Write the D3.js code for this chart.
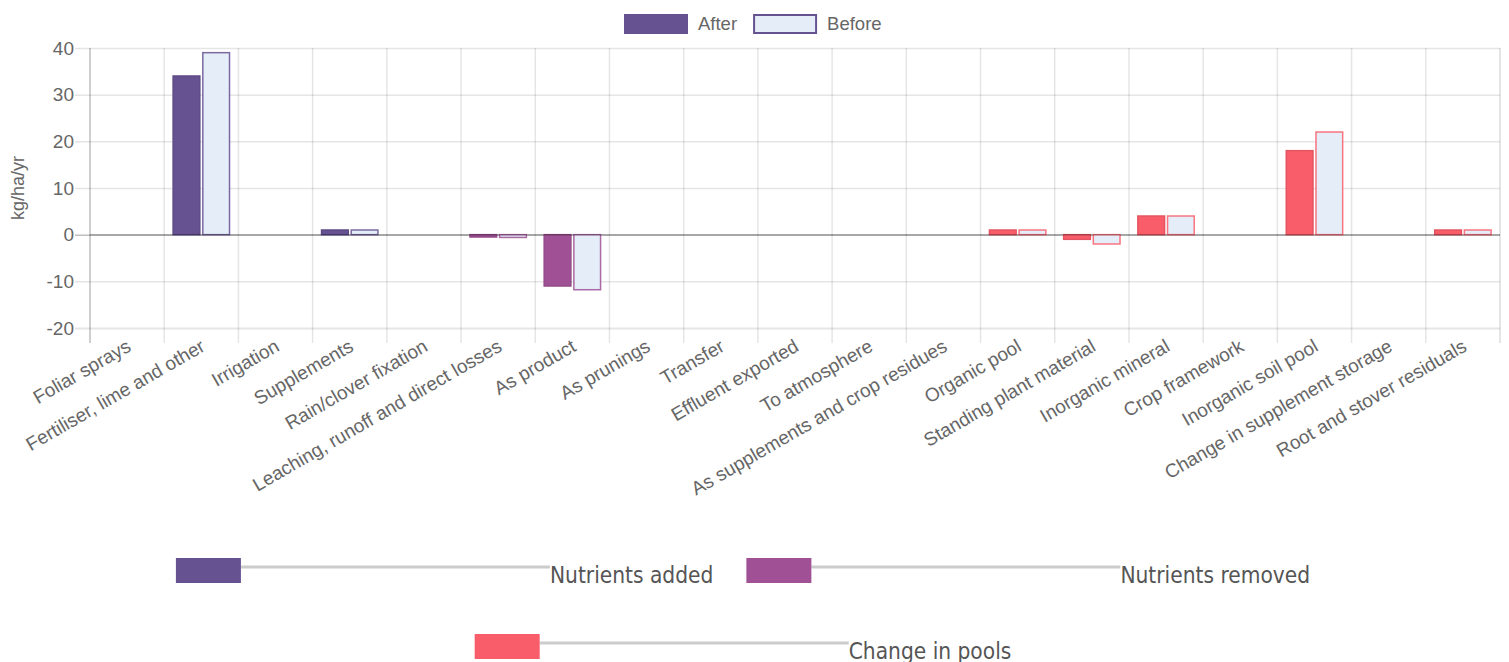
<!DOCTYPE html>
<html>
<head>
<meta charset="utf-8">
<script src="https://cdn.jsdelivr.net/npm/d3@7/dist/d3.min.js"></script>
<style>
  body { margin: 0; background: #fff; }
  svg { display: block; }
</style>
</head>
<body>
<div id="svg"></div>
<script>
// chart data
var categories = ["Foliar sprays", "Fertiliser, lime and other", "Irrigation", "Supplements",
    "Rain/clover fixation", "Leaching, runoff and direct losses", "As product", "As prunings",
    "Transfer", "Effluent exported", "To atmosphere", "As supplements and crop residues",
    "Organic pool", "Standing plant material", "Inorganic mineral", "Crop framework",
    "Inorganic soil pool", "Change in supplement storage", "Root and stover residuals"]
var afterValues  = [0, 34, 0, 1, 0, -0.5, -11, 0, 0, 0, 0, 0, 1, -1, 4, 0, 18, 0, 1]
var beforeValues = [0, 39, 0, 1, 0, -0.6, -11.8, 0, 0, 0, 0, 0, 1, -2, 4, 0, 22, 0, 1]
// which group every category belongs to (0 added, 1 removed, 2 pools)
var categoryGroup = [0, 0, 0, 0, 0, 1, 1, 1, 1, 1, 1, 1, 2, 2, 2, 2, 2, 2, 2]
var groupNames = ["Nutrients added", "Nutrients removed", "Change in pools"]
var seriesNames = ["After", "Before"]
var yTicks = [-20, -10, 0, 10, 20, 30, 40]

var color = ["#665191", "#a05195", "#f95d6a"]
var beforeFill = "#e4edf8"
var font = "'Liberation Sans', Arial, Helvetica, sans-serif"

var W = 1509, H = 662
var margin = {top: 48, right: 9, left: 90},
    width = W - margin.left - margin.right,
    plotBottom = 328

var svg = d3.select("#svg")
    .append("svg")
    .attr("width", W)
    .attr("height", H)

// scales
var x0 = d3.scaleBand()
    .domain(categories)
    .range([margin.left, margin.left + width])
    .paddingInner(0).paddingOuter(0)
var bw = x0.bandwidth()
var x1 = d3.scaleBand()
    .domain(seriesNames)
    .range([bw * 0.1, bw * 0.9])
    .paddingInner(0.1).paddingOuter(0.05)
var y = d3.scaleLinear()
    .domain([-20, 40])
    .range([plotBottom, margin.top])

// horizontal grid + y labels
var yAxis = svg.append("g")
    .attr("transform", "translate(" + margin.left + ",0)")
    .call(d3.axisLeft(y).tickValues(yTicks).tickFormat(function (d) { return String(d) })
        .tickSizeInner(-width).tickSizeOuter(0).tickPadding(16))
yAxis.select(".domain").remove()
yAxis.selectAll(".tick line")
    .attr("x1", -15)
    .attr("x2", width)
    .style("stroke", function (d) { return d == 0 ? "rgba(0,0,0,0.25)" : "rgba(0,0,0,0.1)" })
    .style("stroke-width", function (d) { return d == -20 ? 2 : 1.5 })
yAxis.selectAll(".tick text")
    .style("font-family", font)
    .style("font-size", "19px")
    .style("fill", "#666")

// vertical grid lines on category edges
var edges = categories.map(function (c) { return x0(c) }).concat([margin.left + width])
svg.append("g")
    .selectAll("line")
    .data(edges)
    .enter()
    .append("line")
    .attr("x1", function (d) { return d })
    .attr("x2", function (d) { return d })
    .attr("y1", margin.top)
    .attr("y2", plotBottom + 15)
    .style("stroke", function (d, i) { return i == 0 ? "rgba(0,0,0,0.25)" : "rgba(0,0,0,0.1)" })
    .style("stroke-width", function (d, i) { return i == edges.length - 1 ? 2 : 1.5 })

// x labels
var xAxis = svg.append("g")
    .attr("transform", "translate(0," + plotBottom + ")")
    .call(d3.axisBottom(x0).tickSize(0).tickPadding(0))
xAxis.select(".domain").remove()
xAxis.selectAll(".tick text")
    .attr("y", 0)
    .attr("dy", 0)
    .attr("transform", "translate(5,22) rotate(-30)")
    .style("text-anchor", "end")
    .style("font-family", font)
    .style("font-size", "19px")
    .style("fill", "#666")

// bars
var bars = []
categories.forEach(function (c, i) {
    bars.push({cat: c, series: "After", value: afterValues[i], group: categoryGroup[i]})
    bars.push({cat: c, series: "Before", value: beforeValues[i], group: categoryGroup[i]})
})
svg.append("g")
    .selectAll("rect")
    .data(bars.filter(function (d) { return d.value != 0 }))
    .enter()
    .append("rect")
    .attr("x", function (d) { return x0(d.cat) + x1(d.series) })
    .attr("width", x1.bandwidth())
    .attr("y", function (d) { return y(Math.max(0, d.value)) })
    .attr("height", function (d) { return Math.abs(y(d.value) - y(0)) })
    .style("fill", function (d) { return d.series == "After" ? color[d.group] : beforeFill })
    .style("stroke", function (d) {
        return d.series == "After" ? d3.color(color[d.group]).darker(0.25) : color[d.group]
    })
    .style("stroke-opacity", function (d) { return d.series == "After" ? 1 : 0.85 })
    .style("stroke-width", 1.5)

// zero line on top
svg.append("line")
    .attr("x1", margin.left)
    .attr("x2", margin.left + width)
    .attr("y1", y(0))
    .attr("y2", y(0))
    .style("stroke", "rgba(0,0,0,0.25)")
    .style("stroke-width", 1.5)

// y axis title
svg.append("text")
    .attr("transform", "translate(24," + ((margin.top + plotBottom) / 2) + ") rotate(-90)")
    .attr("text-anchor", "middle")
    .style("font-family", font)
    .style("font-size", "18px")
    .style("fill", "#666")
    .text("kg/ha/yr")

// top legend
var legend = svg.append("g")
var lx = 624
seriesNames.forEach(function (s, i) {
    var g = legend.append("g").attr("transform", "translate(" + lx + ",14)")
    g.append("rect")
        .attr("x", 1).attr("y", 1)
        .attr("width", 62).attr("height", 18)
        .style("fill", i == 0 ? color[0] : beforeFill)
        .style("stroke", color[0])
        .style("stroke-width", 2)
    var t = g.append("text")
        .attr("x", 74).attr("y", 10)
        .attr("dy", "0.35em")
        .style("font-family", font)
        .style("font-size", "18.5px")
        .style("fill", "#666")
        .text(s)
    lx += 74 + t.node().getComputedTextLength() + 16
})

// bottom legend
var rows = [[0, 1], [2]]
var rowY = [558, 634]
var lineLen = 309, boxW = 65, boxH = 25, gap = 33, centerX = 743
rows.forEach(function (row, r) {
    var items = row.map(function (gi) {
        var t = svg.append("text")
            .attr("y", rowY[r] + boxH)
            .style("font-family", "'DejaVu Sans Condensed', 'DejaVu Sans', sans-serif")
            .style("font-stretch", "condensed")
            .style("font-size", "22.5px")
            .style("fill", "#555")
            .text(groupNames[gi])
        return {gi: gi, t: t, w: boxW + lineLen + t.node().getComputedTextLength()}
    })
    var total = d3.sum(items, function (d) { return d.w }) + gap * (items.length - 1)
    var cx = centerX - total / 2
    items.forEach(function (it) {
        svg.append("line")
            .attr("x1", cx + boxW).attr("x2", cx + boxW + lineLen)
            .attr("y1", rowY[r] + 9).attr("y2", rowY[r] + 9)
            .style("stroke", "#ccc")
            .style("stroke-width", 3)
        svg.append("rect")
            .attr("x", cx).attr("y", rowY[r])
            .attr("width", boxW).attr("height", boxH)
            .style("fill", color[it.gi])
        it.t.attr("x", cx + boxW + lineLen)
        cx += it.w + gap
    })
})
</script>
</body>
</html>
